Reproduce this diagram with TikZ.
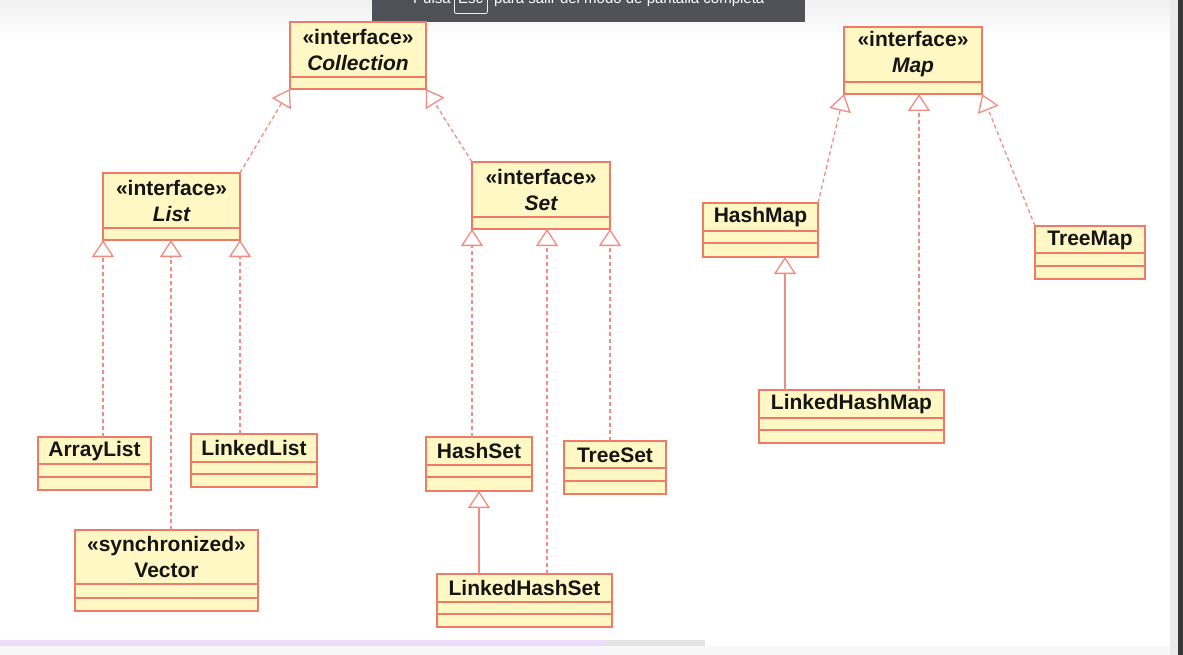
\documentclass[tikz,border=0pt]{standalone}
\usepackage{fontspec}
\setmainfont{Liberation Sans}
\usetikzlibrary{arrows.meta,calc}
\definecolor{boxfill}{HTML}{FFF8C4}
\definecolor{boxline}{HTML}{EF7A68}
\definecolor{conn}{HTML}{F28C82}
\definecolor{ovl}{HTML}{505257}
\definecolor{barpurple}{HTML}{EDDDFA}
\definecolor{bargray}{HTML}{E4E4E4}
\definecolor{txt}{HTML}{151515}
\tikzset{
  cbox/.style={draw=boxline, fill=boxfill, line width=1.3pt, inner sep=0pt, outer sep=0pt},
  divl/.style={draw=boxline, line width=1.1pt},
  ctext/.style={inner sep=0pt, align=center, text=txt, font=\fontsize{21}{26}\selectfont\bfseries},
  realize/.style={draw=conn, line width=1.3pt, dash pattern=on 4pt off 3pt,
     -{Triangle[open, width=22pt, length=17pt]}},
  inherit/.style={draw=conn, line width=1.3pt,
     -{Triangle[open, width=22pt, length=17pt]}},
}
\newcommand{\umlbox}[8]{% name, x1, y1, x2, y2, dividers, text centre y, text
  \pgfmathsetmacro{\ubw}{#4-#2}\pgfmathsetmacro{\ubh}{#5-#3}
  \node[cbox, minimum width=\ubw pt, minimum height=\ubh pt, anchor=north west] (#1) at (#2,#3) {};
  \foreach \dv in {#6} {\draw[divl] (#2,\dv) -- (#4,\dv);}
  \node[ctext] (#1-t) at ({(#2+#4)/2},#7) {#8};
}
\begin{document}
\begin{tikzpicture}[x=1pt,y=-1pt]
\useasboundingbox (0,0) rectangle (1183,655);
\clip (0,0) rectangle (1183,655);
% background
\fill[white] (0,0) rectangle (1183,655);
\fill[top color=black!6, bottom color=white] (0,0) rectangle (1183,40);
\fill[black!3] (0,646) rectangle (1183,655);
\fill[barpurple] (0,640) rectangle (606,646);
\fill[bargray] (606,640) rectangle (705,646);
\fill[black!8] (1170,0) rectangle (1178,655);
\fill[black!78] (1178,0) rectangle (1183,655);
% overlay banner
\fill[ovl] (372,0) rectangle (805,22);
\node[anchor=base west, inner sep=0pt, text=white, font=\fontsize{15}{18}\selectfont] (ovt1) at (413,4) {Pulsa};
\node[draw=white!85!gray, rounded corners=2pt, line width=0.8pt, minimum width=33pt, minimum height=26pt, anchor=south west, inner sep=0pt] (esc) at (454,14) {};
\node[anchor=base, inner sep=0pt, text=white, font=\fontsize{15}{18}\selectfont] (esct) at (470.5,4) {Esc};
\node[anchor=base west, inner sep=0pt, text=white, font=\fontsize{15}{18}\selectfont] (ovt2) at (494,4) {para salir del modo de pantalla completa};
% boxes
\umlbox{col}{290}{22}{426}{89}{77}{49.5}{«interface»\\\itshape Collection}
\umlbox{lst}{103}{173}{240}{240}{228}{200.5}{«interface»\\\itshape List}
\umlbox{set}{472}{162}{610}{229}{217}{189.5}{«interface»\\\itshape Set}
\umlbox{map}{844}{27}{982}{94}{82}{54.5}{«interface»\\\itshape Map}
\umlbox{al}{38}{437}{151}{490}{464,477}{451}{ArrayList}
\umlbox{ll}{191}{434}{317}{487}{462,474}{448}{LinkedList}
\umlbox{vec}{75}{530}{258}{611}{584,598}{557}{«synchronized»\\Vector}
\umlbox{hs}{426}{437}{532}{491}{465,477}{451}{HashSet}
\umlbox{ts}{564}{441}{666}{494}{468,481}{455}{TreeSet}
\umlbox{lhs}{437}{574}{612}{627}{602,614}{588}{LinkedHashSet}
\umlbox{hm}{703}{203}{818}{257}{231,243}{217}{HashMap}
\umlbox{tm}{1035}{226}{1145}{279}{253,266}{240}{TreeMap}
\umlbox{lhm}{759}{390}{944}{443}{418,430}{404}{LinkedHashMap}
% attachment points
\coordinate (lstm) at (171,240);
\coordinate (setm) at (547,229);
\coordinate (mapm) at (919,94);
\coordinate (hmm) at (785,257);
\coordinate (hsm) at (479,491);
% connectors
\draw[realize] (lst.north east) -- (col.south west);
\draw[realize] (set.north west) -- (col.south east);
\draw[realize] (al.north -| lst.south west) -- (lst.south west);
\draw[realize] (vec.north -| lstm) -- (lstm);
\draw[realize] (ll.north -| lst.south east) -- (lst.south east);
\draw[realize] (hs.north -| set.south west) -- (set.south west);
\draw[realize] (lhs.north -| setm) -- (setm);
\draw[realize] (ts.north -| set.south east) -- (set.south east);
\draw[inherit] (lhs.north -| hsm) -- (hsm);
\draw[realize] (hm.north east) -- (map.south west);
\draw[realize] (lhm.north -| mapm) -- (mapm);
\draw[realize] (tm.north west) -- (map.south east);
\draw[inherit] (lhm.north -| hmm) -- (hmm);
\end{tikzpicture}
\end{document}
